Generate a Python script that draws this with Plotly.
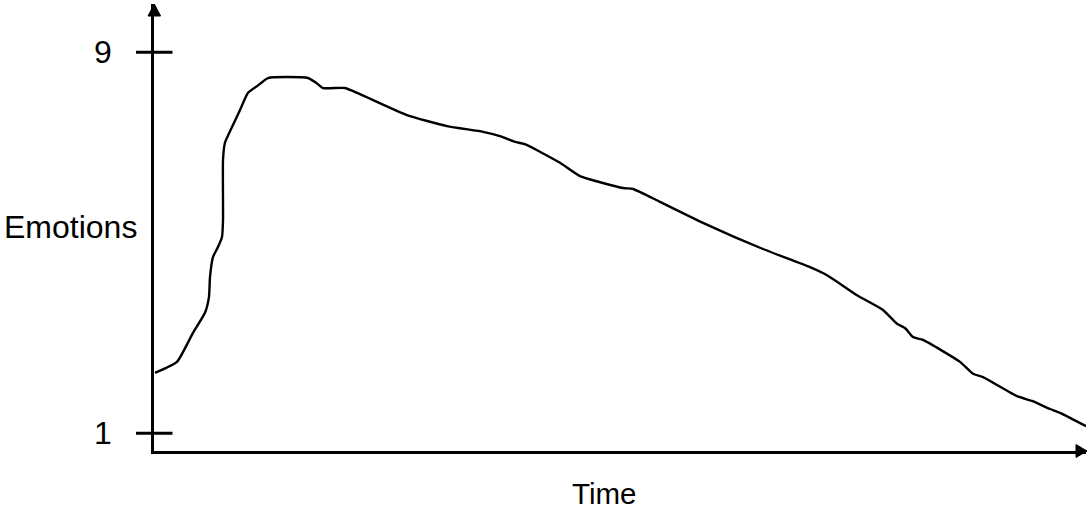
import plotly.graph_objects as go

# Data
time = [0.11, 2.47, 4.19, 5.48, 5.91, 6.02, 6.34, 6.88, 7.31, 7.42, 7.42, 7.63, 8.39, 9.25,
        10.11, 11.08, 12.26, 16.56, 17.42, 18.17, 20.54, 22.15, 27.20, 31.51, 35.38, 37.20,
        38.82, 39.89, 43.66, 45.81, 50.43, 51.51, 54.41, 59.03, 65.48, 70.54, 72.37, 75.59,
        78.39, 79.89, 80.75, 81.61, 82.69, 86.67, 88.06, 89.14, 92.80, 94.41, 96.34, 97.42,
        100.22]
emotions = [2.27, 2.50, 3.11, 3.53, 3.86, 4.28, 4.70, 4.91, 5.12, 5.48, 6.74, 7.10, 7.43, 7.79,
            8.15, 8.29, 8.46, 8.46, 8.36, 8.25, 8.25, 8.12, 7.68, 7.45, 7.33, 7.24,
            7.12, 7.07, 6.68, 6.40, 6.15, 6.13, 5.86, 5.42, 4.87, 4.49, 4.32, 3.90,
            3.59, 3.30, 3.21, 3.02, 2.96, 2.50, 2.25, 2.18, 1.78, 1.68, 1.51, 1.43,
            1.15]
tick_values = [1, 9]
tick_labels = ["1", "9"]
x_title = "Time"
y_title = "Emotions"

W, H = 1088, 517
ML, MR, MT, MB = 154, 2, 4, 66
PW, PH = W - ML - MR, H - MT - MB


def px(x):
    return (x - ML) / PW


def py(y):
    return (H - MB - y) / PH


FONT = "Liberation Sans, Arial, sans-serif"

fig = go.Figure()
fig.add_trace(go.Scatter(
    x=time, y=emotions, mode="lines",
    line=dict(color="black", width=2.4, shape="spline", smoothing=0.5),
    hoverinfo="skip", showlegend=False,
))

shapes = []
# tick marks crossing the y axis
for v in tick_values:
    shapes.append(dict(type="line", xref="paper", yref="y",
                       x0=px(136), x1=px(172.5), y0=v, y1=v,
                       line=dict(color="black", width=3)))
# arrow heads
shapes.append(dict(type="path", xref="paper", yref="paper",
                   path=f"M {px(154.3)} {py(4)} L {px(148)} {py(16)} L {px(160.6)} {py(16)} Z",
                   fillcolor="black", line=dict(color="black", width=1)))
shapes.append(dict(type="path", xref="paper", yref="paper",
                   path=f"M {px(1087)} {py(451)} L {px(1076)} {py(444.5)} L {px(1076)} {py(457.5)} Z",
                   fillcolor="black", line=dict(color="black", width=1)))

annotations = []
for v, t in zip(tick_values, tick_labels):
    annotations.append(dict(text=t, xref="paper", yref="y", x=px(103), y=v,
                            xanchor="center", yanchor="middle", showarrow=False,
                            font=dict(family=FONT, size=32, color="black")))
annotations.append(dict(text=y_title, xref="paper", yref="paper", x=px(70), y=py(227),
                        xanchor="center", yanchor="middle", showarrow=False,
                        font=dict(family=FONT, size=32, color="black")))
annotations.append(dict(text=x_title, xref="paper", yref="paper", x=px(604), y=py(493),
                        xanchor="center", yanchor="middle", showarrow=False,
                        font=dict(family=FONT, size=29.5, color="black")))

fig.update_layout(
    width=W, height=H,
    margin=dict(l=ML, r=MR, t=MT, b=MB),
    paper_bgcolor="white", plot_bgcolor="white",
    xaxis=dict(range=[0, PW / 9.3], showgrid=False, zeroline=False, showticklabels=False,
               ticks="", showline=True, linecolor="black", linewidth=3, fixedrange=True),
    yaxis=dict(range=[1 - (451 - 433.3) / 47.625, 9 + (52.3 - 4) / 47.625], showgrid=False,
               zeroline=False, showticklabels=False, ticks="", showline=True,
               linecolor="black", linewidth=3, fixedrange=True),
    shapes=shapes, annotations=annotations,
)

fig.write_html("out.html", config={"displayModeBar": False},
               post_script="document.body.style.margin='0';document.body.style.padding='0';")
